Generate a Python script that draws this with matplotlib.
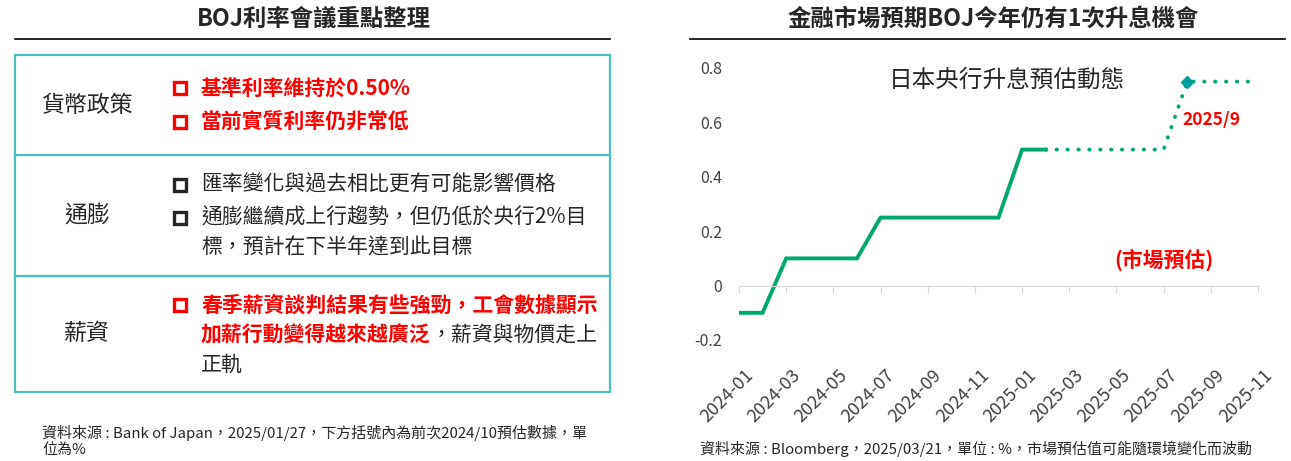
import matplotlib
matplotlib.use("Agg")
import matplotlib.pyplot as plt
import matplotlib.transforms as mtransforms

plt.rcParams['font.family'] = ['Noto Sans CJK TC', 'DejaVu Sans']

# data for the right chart
months = ["2024-01", "2024-02", "2024-03", "2024-04", "2024-05", "2024-06",
          "2024-07", "2024-08", "2024-09", "2024-10", "2024-11", "2024-12",
          "2025-01", "2025-02", "2025-03", "2025-04", "2025-05", "2025-06",
          "2025-07", "2025-08", "2025-09", "2025-10", "2025-11"]
actual_rate = [-0.1, -0.1, 0.1, 0.1, 0.1, 0.1,
               0.25, 0.25, 0.25, 0.25, 0.25, 0.25,
               0.5, 0.5]
market_rate = [0.5, 0.5, 0.5, 0.5, 0.5, 0.5, 0.75, 0.75, 0.75, 0.75]
hike_month = "2025-08"
hike_value = 0.75
yticks = [-0.2, 0, 0.2, 0.4, 0.6, 0.8]

# text for the left table
rows = ["貨幣政策", "通膨", "薪資"]
policy_lines = ["基準利率維持於0.50%", "當前實質利率仍非常低"]
inflation_lines = ["匯率變化與過去相比更有可能影響價格",
                   "通膨繼續成上行趨勢，但仍低於央行2%目",
                   "標，預計在下半年達到此目標"]
wage_red = ["春季薪資談判結果有些強勁，工會數據顯示", "加薪行動變得越來越廣泛"]
wage_black = ["，薪資與物價走上", "正軌"]

RED = "#ff0000"
DARK = "#262626"
TEAL = "#4dbfbf"

W, H = 1291, 461
fig = plt.figure(figsize=(W / 100, H / 100), dpi=100)

# background axes in pixel coords for the table and titles
bg = fig.add_axes([0, 0, 1, 1])
bg.set_xlim(0, W)
bg.set_ylim(H, 0)
bg.axis('off')

bg.text(314, 19, "BOJ利率會議重點整理", ha='center', va='center',
        fontsize=16.8, weight='bold', color=DARK)
bg.plot([15, 610], [39, 39], color='black', lw=1.2)
bg.text(993, 19, "金融市場預期BOJ今年仍有1次升息機會", ha='center', va='center',
        fontsize=16.8, weight='bold', color=DARK)
bg.plot([690, 1285], [39, 39], color='black', lw=1.2)

# table box
bg.add_patch(plt.Rectangle((15, 55), 595, 337, fill=False, edgecolor=TEAL, lw=1.6))
bg.plot([15, 610], [155, 155], color=TEAL, lw=1.6)
bg.plot([15, 610], [276, 276], color=TEAL, lw=1.6)

for label, y in zip(rows, [105, 215, 333]):
    bg.text(87, y, label, ha='center', va='center', fontsize=16.5,
            weight='medium', color=DARK)

def bullet(y, color):
    bg.plot([180], [y], marker='s', ms=8.5, mfc='white', mec=color, mew=2.4)

tx = 201
for i, line in enumerate(policy_lines):
    y = 88 + i * 34
    bullet(y, RED)
    bg.text(tx, y, line, ha='left', va='center', fontsize=15, weight='bold', color=RED)

for i, line in enumerate(inflation_lines):
    y = [185, 218, 248][i]
    if i < 2:
        bullet(y, DARK)
    bg.text(tx, y, line, ha='left', va='center', fontsize=15, weight='medium', color=DARK)

bullet(305, RED)
bg.text(tx, 305, wage_red[0], ha='left', va='center', fontsize=15, weight='bold', color=RED)
t = bg.text(tx, 335, wage_red[1], ha='left', va='center', fontsize=15, weight='bold', color=RED)
bg.annotate(wage_black[0], xy=(1, 0.5), xycoords=t, ha='left', va='center',
            fontsize=15, weight='medium', color=DARK)
bg.text(tx, 365, wage_black[1], ha='left', va='center', fontsize=15,
        weight='medium', color=DARK)

bg.text(42, 433, "資料來源 : Bank of Japan，2025/01/27，下方括號內為前次2024/10預估數據，單",
        ha='left', va='center', fontsize=10.8, color=DARK)
bg.text(42, 450, "位為%", ha='left', va='center', fontsize=10.8, color=DARK)
bg.text(700, 449, "資料來源 : Bloomberg，2025/03/21，單位 : %，市場預估值可能隨環境變化而波動",
        ha='left', va='center', fontsize=10.8, color=DARK)

# right chart
ax = fig.add_axes([739 / W, 1 - 340 / H, 519 / W, 272 / H])
x_actual = list(range(len(actual_rate)))
x_market = list(range(len(actual_rate) - 1, len(actual_rate) - 1 + len(market_rate)))
ax.plot(x_actual, actual_rate, color="#00a86b", lw=2.8, solid_joinstyle='miter')
ax.plot(x_market, market_rate, color="#00a878", lw=2.8,
        linestyle=(0, (0.1, 2.7)), dash_capstyle='round')
ax.plot([months.index(hike_month)], [hike_value], marker='D', ms=6.5,
        color="#009c9c", zorder=5)

ax.set_xlim(0, len(months) - 1)
ax.set_ylim(-0.2, 0.8)
for s in ['top', 'right', 'left']:
    ax.spines[s].set_visible(False)
ax.spines['bottom'].set_position(('data', 0))
ax.spines['bottom'].set_color('#d9d9d9')
ax.tick_params(axis='y', length=0, pad=12, labelsize=11.5, labelcolor='#404040')
ax.tick_params(axis='x', length=5, color='#d9d9d9', pad=53, labelsize=13,
               labelcolor='#404040')
ax.set_yticks(yticks)
ax.set_yticklabels([f"{v:g}" for v in yticks])
ax.set_xticks(range(0, len(months), 2))
ax.set_xticklabels(months[::2], rotation=45, ha='right', rotation_mode='anchor')
offset = mtransforms.ScaledTranslation(5 / 100, 0, fig.dpi_scale_trans)
for lbl in ax.get_xticklabels():
    lbl.set_transform(lbl.get_transform() + offset)
ax.patch.set_alpha(0)

ax.text(0.516, 0.955, "日本央行升息預估動態", transform=ax.transAxes, ha='center',
        va='center', fontsize=17, weight='medium', color=DARK)
ax.text(months.index("2025-08") - 0.2, 0.61, "2025/9", ha='left', va='center',
        fontsize=12.5, weight='bold', color=RED)
ax.text(18.0, 0.095, "(市場預估)", ha='center', va='center', fontsize=15,
        weight='bold', color=RED)

fig.savefig("out.png", dpi=100)
